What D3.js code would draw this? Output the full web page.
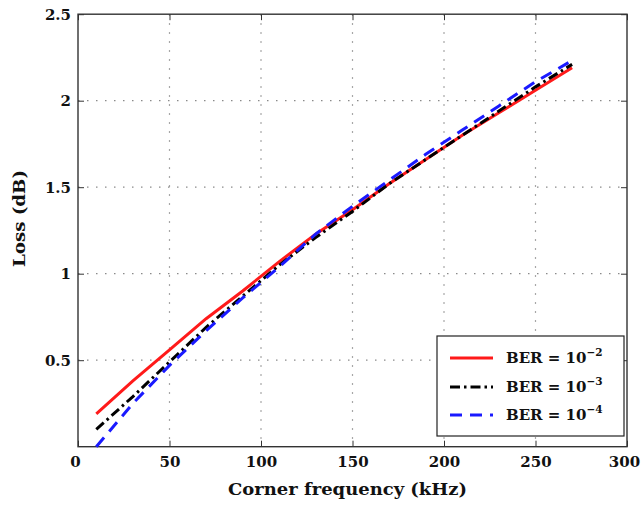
<!DOCTYPE html>
<html><head><meta charset="utf-8">
<script src="https://cdn.jsdelivr.net/npm/d3@7"></script>
<style>body{margin:0;background:#fff}svg{display:block}</style>
</head><body><svg id="c" width="642" height="507"></svg>
<script>
const freq = [10,30,50,70,90,110,130,150,170,190,210,230,250,270];
const ber2 = [0.19,0.38,0.56,0.74,0.90,1.07,1.23,1.37,1.52,1.66,1.80,1.93,2.06,2.19];
const ber3 = [0.10,0.29,0.49,0.69,0.87,1.05,1.21,1.36,1.52,1.66,1.80,1.94,2.08,2.21];
const freq4 = [10,30,50,70,90,110,130,150,170,190,210,230,250,268];
const ber4 = [0.00,0.25,0.47,0.67,0.86,1.04,1.23,1.39,1.54,1.69,1.83,1.97,2.11,2.22];
const xTicks = [0,50,100,150,200,250,300];
const yTicks = [0.5,1,1.5,2,2.5];
const seriesNames = ["BER = 10", "BER = 10", "BER = 10"];
const seriesExp = ["\u22122", "\u22123", "\u22124"];

const svg = d3.select("#c");
const L=78, R=627, T=14.2, B=446.7;
const x = d3.scaleLinear().domain([0,300]).range([L,R]);
const y = d3.scaleLinear().domain([0,2.5]).range([B,T]);
const font = "'DejaVu Serif', serif";

// grid
const g = svg.append("g");
g.selectAll("line.vg").data(xTicks.filter(d=>d>0&&d<300)).enter().append("line")
  .attr("x1",d=>x(d)).attr("x2",d=>x(d)).attr("y1",T).attr("y2",B)
  .attr("stroke","#8a8a8a").attr("stroke-width",1.2).attr("stroke-dasharray","1.5,7.5");
g.selectAll("line.hg").data(yTicks.filter(d=>d<2.5)).enter().append("line")
  .attr("y1",d=>y(d)).attr("y2",d=>y(d)).attr("x1",L).attr("x2",R)
  .attr("stroke","#8a8a8a").attr("stroke-width",1.2).attr("stroke-dasharray","1.5,7.5");

// axes with inward ticks
const ax = d3.axisBottom(x).tickValues(xTicks).tickSize(-6).tickPadding(10).tickFormat(d3.format("d"));
const axG = svg.append("g").attr("transform",`translate(0,${B})`).call(ax);
const ay = d3.axisLeft(y).tickValues(yTicks).tickSize(-6).tickPadding(7).tickFormat(d=>String(d));
const ayG = svg.append("g").attr("transform",`translate(${L},0)`).call(ay);
const axT = svg.append("g").attr("transform",`translate(0,${T})`).call(d3.axisTop(x).tickValues(xTicks).tickSize(-6).tickFormat(""));
const ayR = svg.append("g").attr("transform",`translate(${R},0)`).call(d3.axisRight(y).tickValues(yTicks).tickSize(-6).tickFormat(""));
[axG,ayG,axT,ayR].forEach(a=>{
  a.select(".domain").remove();
  a.selectAll(".tick line").attr("stroke","#333").attr("stroke-width",1);
  a.selectAll("text").attr("font-family",font).attr("font-weight","bold").attr("font-size",15).attr("fill","#111");
});
axG.selectAll(".tick text").filter(d=>d===300).attr("dx",-3);
axG.selectAll(".tick text").filter(d=>d===0).attr("dx",-3);
svg.append("rect").attr("x",L).attr("y",T).attr("width",R-L).attr("height",B-T)
  .attr("fill","none").attr("stroke","#333").attr("stroke-width",1.4);

// lines
const line = d3.line().x(d=>x(d[0])).y(d=>y(d[1]));
const data = [
  {pts: freq.map((f,i)=>[f,ber2[i]]), color:"#ff1a1a", dash:null},
  {pts: freq.map((f,i)=>[f,ber3[i]]), color:"#000", dash:"10,4,2.5,4"},
  {pts: freq4.map((f,i)=>[f,ber4[i]]), color:"#1a1aff", dash:"12,8"}
];
data.forEach(s=>{
  svg.append("path").attr("d",line(s.pts)).attr("fill","none").attr("stroke",s.color)
    .attr("stroke-width",3).attr("stroke-dasharray",s.dash);
});

// legend
const lg = svg.append("g");
lg.append("rect").attr("x",437).attr("y",336).attr("width",187).attr("height",100)
  .attr("fill","#fff").attr("stroke","#222").attr("stroke-width",1.2);
const rowsY = [358,387,415];
data.forEach((s,i)=>{
  lg.append("line").attr("x1",450).attr("x2",493).attr("y1",rowsY[i]).attr("y2",rowsY[i])
    .attr("stroke",s.color).attr("stroke-width",3).attr("stroke-dasharray",s.dash);
  const t = lg.append("text").attr("x",506).attr("y",rowsY[i]+5).attr("font-family",font)
    .attr("font-weight","bold").attr("font-size",15).attr("fill","#111");
  t.append("tspan").text(seriesNames[i]);
  t.append("tspan").attr("dy",-7).attr("font-size",10.5).text(seriesExp[i]);
});

// titles
svg.append("text").attr("x",(228+467)/2).attr("y",495).attr("text-anchor","middle")
  .attr("font-family",font).attr("font-weight","bold").attr("font-size",16.5).attr("fill","#111")
  .attr("textLength",239).attr("lengthAdjust","spacingAndGlyphs").text("Corner frequency (kHz)");
svg.append("text").attr("transform","translate(25,218.5) rotate(-90)").attr("text-anchor","middle")
  .attr("font-family",font).attr("font-weight","bold").attr("font-size",16.5).attr("fill","#111")
  .attr("textLength",97).attr("lengthAdjust","spacingAndGlyphs").text("Loss (dB)");
</script></body></html>
